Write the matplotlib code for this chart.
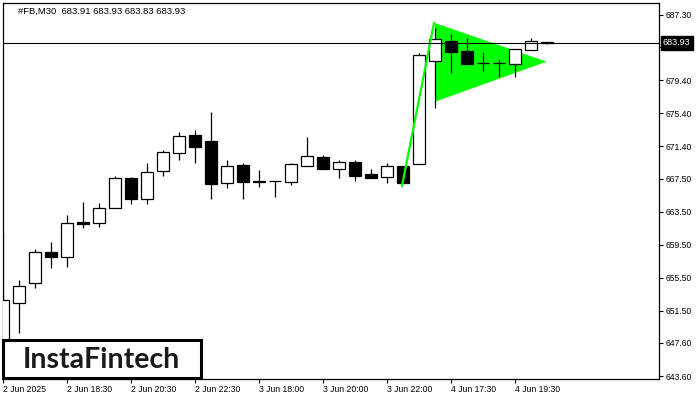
import matplotlib
matplotlib.use("Agg")
import matplotlib.pyplot as plt
import matplotlib.transforms as mtransforms
from matplotlib.patches import Polygon, Rectangle

# M30 candles, 2-4 Jun 2025
opens  = [642.80, 652.44, 654.86, 658.61, 658.01, 662.24, 662.12, 663.94, 667.57, 665.03,
          668.42, 670.60, 672.77, 672.05, 666.96, 669.14, 667.20, 667.22, 667.08, 669.02,
          670.11, 668.66, 669.50, 668.05, 667.69, 669.02, 669.26, 681.73, 684.15, 682.94,
          681.45, 681.45, 681.37, 683.06, 683.91]
highs  = [660.91, 655.22, 658.97, 659.82, 663.09, 664.66, 664.54, 667.81, 667.69, 669.38,
          670.96, 673.14, 673.38, 675.56, 669.75, 669.38, 668.54, 667.25, 669.38, 672.53,
          670.35, 669.75, 669.75, 668.66, 669.38, 669.02, 682.70, 685.73, 685.00, 684.52,
          682.82, 681.97, 683.18, 684.52, 683.93]
lows   = [642.60, 648.81, 654.25, 656.67, 656.79, 661.52, 661.64, 663.94, 664.42, 664.42,
          667.81, 669.75, 669.38, 665.03, 666.36, 665.03, 666.48, 665.27, 666.72, 669.02,
          668.66, 667.57, 667.20, 667.57, 666.96, 666.96, 669.26, 676.04, 680.28, 681.37,
          680.52, 679.79, 679.79, 683.06, 683.83]
closes = [652.80, 654.49, 658.61, 658.01, 662.12, 662.00, 663.94, 667.57, 665.03, 668.29,
          670.72, 672.65, 671.32, 666.84, 669.02, 667.08, 667.14, 667.18, 669.26, 670.23,
          668.66, 669.50, 667.81, 667.57, 669.02, 666.96, 682.46, 684.39, 682.82, 681.37,
          681.45, 681.47, 683.18, 684.15, 683.93]

x_tick_pos = [0, 4, 8, 12, 16, 20, 24, 28, 32]
x_tick_labels = ["2 Jun 2025", "2 Jun 18:30", "2 Jun 20:30", "2 Jun 22:30", "3 Jun 18:00",
                 "3 Jun 20:00", "3 Jun 22:00", "4 Jun 17:30", "4 Jun 19:30"]
y_ticks = [643.60, 647.60, 651.50, 655.50, 659.50, 663.50, 667.50, 671.40, 675.40,
           679.40, 683.40, 687.30]
last_price = 683.93

# bullish pennant: flagpole and flag
pole_x = [24.94, 26.94]
pole_y = [666.60, 686.33]
flag_x = [27.0, 33.98, 27.0]
flag_y = [686.33, 681.65, 676.80]

plt.rcParams["font.family"] = ["Liberation Sans", "DejaVu Sans"]

fig = plt.figure(figsize=(7, 4), dpi=100)
ax = fig.add_axes([2.5/700, 21/400, 656.5/700, 376/400])

n = len(opens)
xs = list(range(n))
ax.vlines(xs, lows, highs, color="black", lw=0.9, zorder=3)
bottoms = [min(o, c) for o, c in zip(opens, closes)]
heights = [max(abs(c - o), 0.06) for o, c in zip(opens, closes)]
colors = ["white" if c >= o else "black" for o, c in zip(opens, closes)]
ax.bar(xs, heights, bottom=bottoms, width=0.69, color=colors,
       edgecolor="black", lw=0.9, zorder=4)

ax.add_patch(Polygon(list(zip(flag_x, flag_y)), closed=True, fc="#00ff00",
                     ec="none", zorder=2))
ax.plot(pole_x, pole_y, color="#00ff00", lw=1.6, zorder=5)

ax.axhline(last_price, color="black", lw=0.8, zorder=6)

ax.set_xlim(-0.03, 41.0)
ax.set_ylim(643.24, 688.75)

ax.yaxis.tick_right()
ax.set_yticks(y_ticks)
ax.set_yticklabels(["%.2f" % v for v in y_ticks])
ax.set_xticks(x_tick_pos)
ax.set_xticklabels(x_tick_labels, ha="left")
ax.tick_params(axis="both", labelsize=6.2, length=3, width=0.8, colors="black")
ax.tick_params(axis="y", pad=2)
ax.tick_params(axis="x", pad=1.5)
for s in ax.spines.values():
    s.set_linewidth(0.9)

trans = mtransforms.blended_transform_factory(ax.transAxes, ax.transData)
ax.text(1.006, last_price, "%.2f" % last_price, transform=trans, ha="left",
        va="center", fontsize=6.6, color="white", zorder=10, clip_on=False,
        bbox=dict(boxstyle="square,pad=0.25", fc="black", ec="black"))

fig.text(18/700, 1 - 11.5/400, "#FB,M30  683.91 683.93 683.83 683.93",
         fontsize=6.8, va="center", ha="left")

fig.add_artist(Rectangle((2.5/700, 22/400), 198.5/700, 38/400,
                         transform=fig.transFigure, fc="white", ec="black",
                         lw=2.2, zorder=20))
fig.text(101.7/700, 1 - 360/400, "InstaFintech", fontsize=20.5, family="Lato",
         fontweight="bold", color="#1a1a1a", ha="center", va="center", zorder=21)

fig.savefig("out.png", dpi=100)
